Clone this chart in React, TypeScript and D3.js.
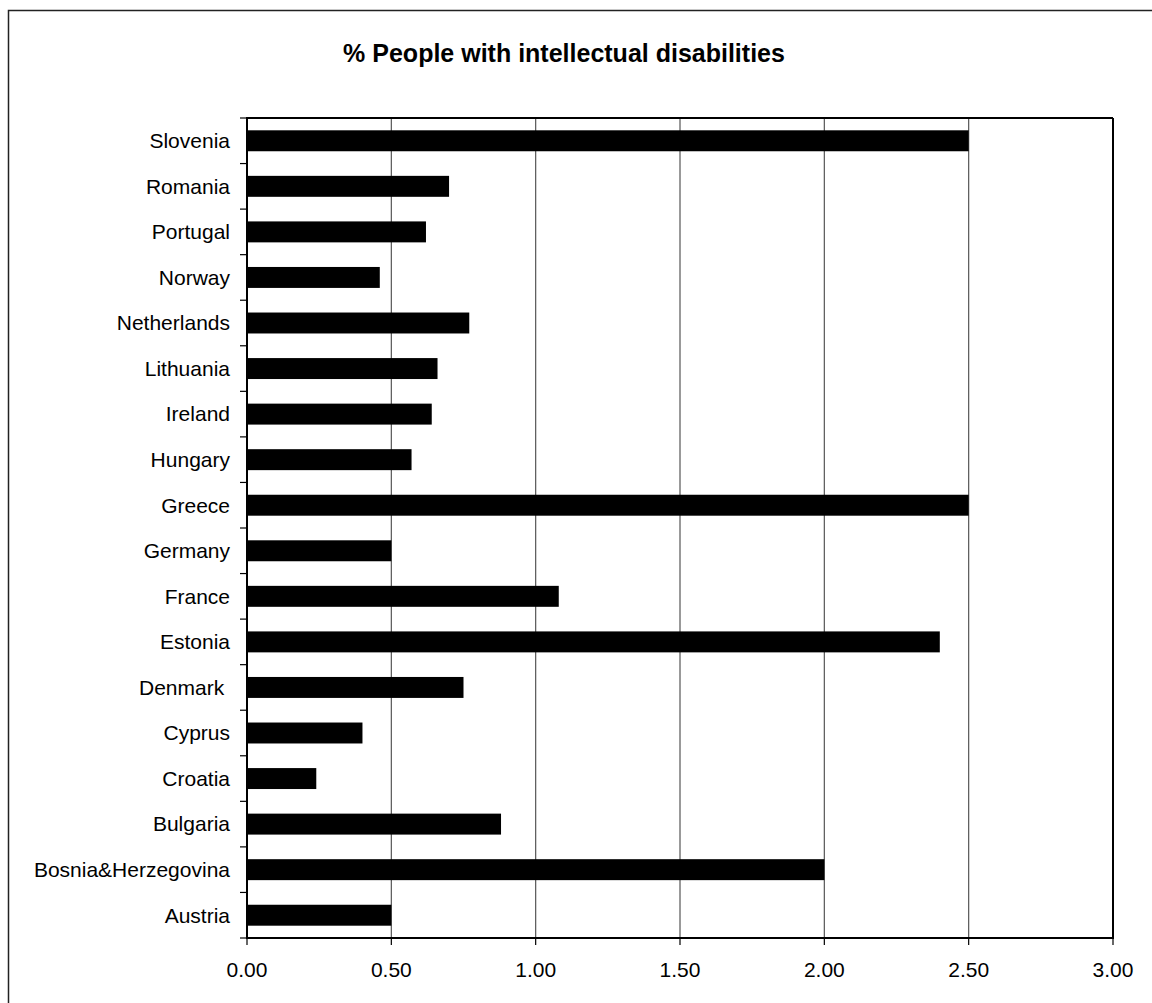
import React from "react";
import * as d3 from "d3";

// Countries listed top to bottom
const countries = [
  "Slovenia",
  "Romania",
  "Portugal",
  "Norway",
  "Netherlands",
  "Lithuania",
  "Ireland",
  "Hungary",
  "Greece",
  "Germany",
  "France",
  "Estonia",
  "Denmark ",
  "Cyprus",
  "Croatia",
  "Bulgaria",
  "Bosnia&Herzegovina",
  "Austria",
];

// Share of people with intellectual disabilities (%)
const shares = [
  2.5, 0.7, 0.62, 0.46, 0.77, 0.66, 0.64, 0.57, 2.5, 0.5, 1.08, 2.4, 0.75, 0.4, 0.24, 0.88, 2.0, 0.5,
];

const xTicks = [0, 0.5, 1.0, 1.5, 2.0, 2.5, 3.0];

const title = "% People with intellectual disabilities";

const W = 1152;
const H = 1003;
const plot = { left: 247, right: 1113, top: 118, bottom: 938 };
const font = "Arial, 'Liberation Sans', sans-serif";

export default function App() {
  const x = d3.scaleLinear().domain([0, 3]).range([plot.left, plot.right]);
  const y = d3
    .scaleBand<string>()
    .domain(countries)
    .range([plot.top, plot.bottom])
    .paddingInner(0.54)
    .paddingOuter(0.27);
  const step = y.step();
  const fmt = d3.format(".2f");

  const boundaries = d3.range(countries.length + 1).map((i) => plot.top + i * step);

  return (
    <svg
      width={W}
      height={H}
      style={{ position: "absolute", left: 0, top: 0, background: "#fff" }}
      fontFamily={font}
    >
      <rect x={0} y={0} width={W} height={H} fill="#fff" />
      {/* outer chart frame */}
      <rect x={8.5} y={10.5} width={W + 20} height={H + 20} fill="none" stroke="#222" strokeWidth={1.5} />

      <text x={564} y={62} textAnchor="middle" fontSize={25} fontWeight="bold" fill="#000">
        {title}
      </text>

      {/* vertical gridlines */}
      {xTicks.slice(1, -1).map((t) => (
        <line key={`g${t}`} x1={x(t)} x2={x(t)} y1={plot.top} y2={plot.bottom} stroke="#555" strokeWidth={1.2} />
      ))}

      {/* bars */}
      {countries.map((c, i) => (
        <rect
          key={c}
          x={x(0)}
          y={y(c)}
          width={x(shares[i]) - x(0)}
          height={y.bandwidth()}
          fill="#000"
        />
      ))}

      {/* plot frame */}
      <line x1={plot.left} x2={plot.right} y1={plot.top} y2={plot.top} stroke="#000" strokeWidth={2} />
      <line x1={plot.right} x2={plot.right} y1={plot.top} y2={plot.bottom} stroke="#000" strokeWidth={2} />
      <line x1={plot.left} x2={plot.right + 1} y1={plot.bottom} y2={plot.bottom} stroke="#000" strokeWidth={2} />
      <line x1={plot.left} x2={plot.left} y1={plot.top - 1} y2={plot.bottom + 1} stroke="#000" strokeWidth={2} />

      {/* category ticks */}
      {boundaries.map((b, i) => (
        <line key={`yt${i}`} x1={plot.left - 7} x2={plot.left} y1={b} y2={b} stroke="#000" strokeWidth={1.2} />
      ))}

      {/* category labels */}
      {countries.map((c) => (
        <text
          key={`l${c}`}
          x={230}
          y={(y(c) ?? 0) + y.bandwidth() / 2}
          dy="0.35em"
          textAnchor="end"
          fontSize={21}
          fill="#000"
          style={{ whiteSpace: "pre" }}
        >
          {c}
        </text>
      ))}

      {/* value axis ticks and labels */}
      {xTicks.map((t) => (
        <g key={`xt${t}`}>
          <line x1={x(t)} x2={x(t)} y1={plot.bottom} y2={plot.bottom + 7} stroke="#000" strokeWidth={1.2} />
          <text x={x(t)} y={977} textAnchor="middle" fontSize={21} fill="#000">
            {fmt(t)}
          </text>
        </g>
      ))}
    </svg>
  );
}
